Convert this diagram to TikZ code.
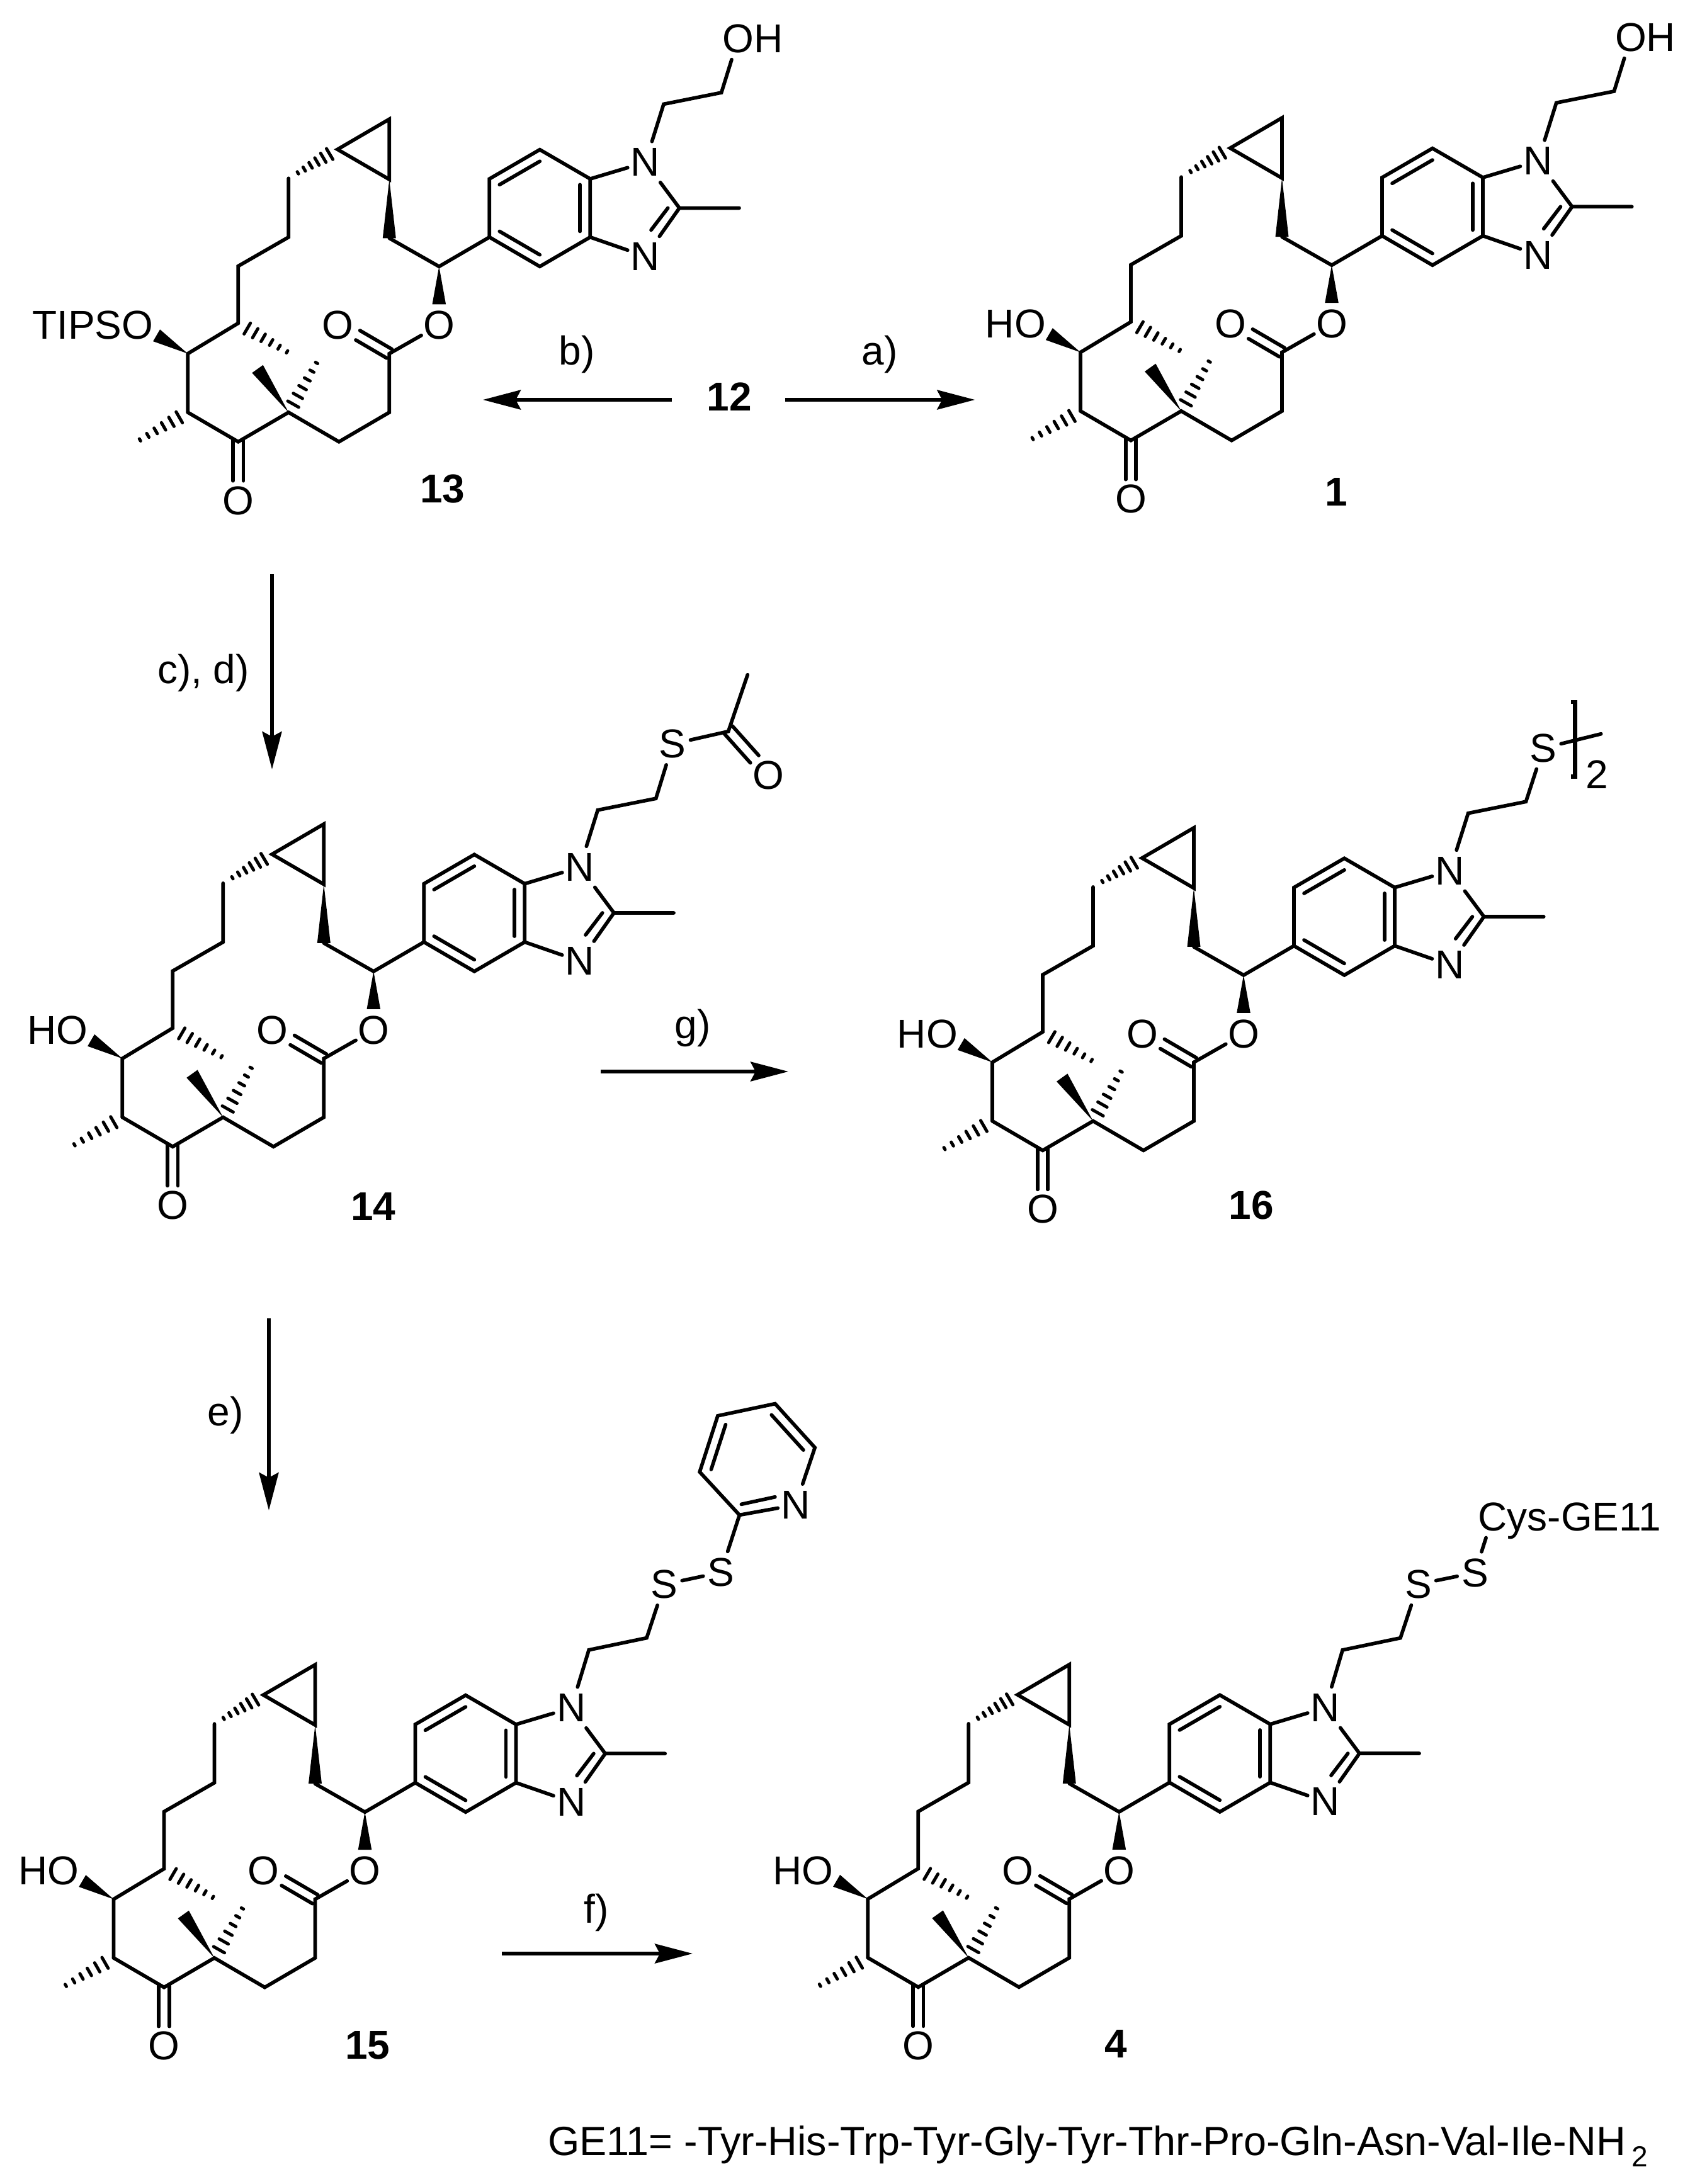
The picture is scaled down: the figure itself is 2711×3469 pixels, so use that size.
\documentclass[tikz,border=0pt]{standalone}
\usepackage{fontspec}
\setmainfont{Liberation Sans}
\usetikzlibrary{calc,arrows.meta}
\tikzset{
  x=1pt,y=1pt,
  bond/.style={line width=5.7pt,line cap=round,line join=miter,miter limit=6},
  hashline/.style={line width=5pt,line cap=round},
  atom/.style={rectangle,inner sep=0pt,minimum width=56pt,minimum height=66pt,font=\fontsize{64}{70}\selectfont},
  lab/.style={inner sep=0pt,font=\fontsize{64}{70}\selectfont},
  foot/.style={inner sep=0pt,font=\fontsize{64.7}{70}\selectfont},
  cpd/.style={inner sep=0pt,font=\fontsize{64}{70}\selectfont\bfseries},
  rxn/.style={line width=5.3pt,-{Stealth[length=60pt,width=31pt,inset=8pt]}},
  bracket/.style={line width=6.5pt,line join=miter}
}
\newcommand\wedgeb[3]{\fill ($(#2)!#3pt!90:(#1)$) -- ($(#2)!#3pt!-90:(#1)$) -- (#1) -- cycle;}
\newcommand\hashb[4]{\foreach \hI in {0,...,5}{%
  \pgfmathsetmacro\hT{#3+#4*\hI}\pgfmathsetmacro\hW{10-1.6*\hI}%
  \draw[hashline] ($(#1)!\hT!(#2)!\hW pt!90:(#2)$) -- ($(#1)!\hT!(#2)!\hW pt!-90:(#2)$);}}
\newcommand\inner[3]{\draw[bond] ($(#1)!0.8!(#2)$) -- ($(#1)!0.8!(#3)$);}
\newcommand\molcore[5]{%
\begin{scope}[shift={(#2,-#3)},name prefix=#1-]
  \coordinate (K) at (0,0);
  \coordinate (Q) at (80,46.7);
  \coordinate (A) at (160,0);
  \coordinate (B) at (240,46.7);
  \coordinate (CO) at (240,140);
  \coordinate (Me) at (-80,46.7);
  \coordinate (OR) at (-80,140);
  \coordinate (Ch) at (0,188.3);
  \coordinate (D) at (0,279);
  \coordinate (E) at (80,325);
  \coordinate (F) at (80,418.4);
  \coordinate (Cl) at (157.7,464.4);
  \coordinate (Ct) at (240,512.4);
  \coordinate (Cb) at (240,416.7);
  \coordinate (G) at (240,323.4);
  \coordinate (H) at (319,278.4);
  \coordinate (R1) at (399,325);
  \coordinate (R2) at (399,417.6);
  \coordinate (R3) at (479,464);
  \coordinate (R4) at (559,417.6);
  \coordinate (R5) at (559,325);
  \coordinate (R6) at (479,278.4);
  \coordinate (Rc) at (479,371.3);
  \coordinate (C2) at (700.7,371.3);
  \coordinate (MeC) at (795.7,371.3);
  \coordinate (hMe1) at (-160,0.7);
  \coordinate (hMe2) at (80,141.5);
  \coordinate (hMe3) at (125.5,127);
  \coordinate (wMe3) at (30.7,115.7);
  \coordinate (wOR) at (-129.7,169);
  \coordinate (wOE) at (319,218.4);
  \coordinate (k1a) at (-8.3,4.8);
  \coordinate (k1b) at (-8.3,-62);
  \coordinate (k2a) at (8.3,4.8);
  \coordinate (k2b) at (8.3,-62);
  \coordinate (e1a) at (244.1,147.1);
  \coordinate (e1b) at (193.4,176.7);
  \coordinate (e2a) at (235.9,132.9);
  \coordinate (e2b) at (186.7,161.7);
  \coordinate (d1) at (669,326.3);
  \coordinate (d2a) at (682.4,371.3);
  \coordinate (d2b) at (655.7,336.3);
  \node[atom] (Ok) at (0,-93.3) {O};
  \node[atom] (Oe) at (319,185) {O};
  \node[atom] (Oc) at (158.3,185) {O};
  \node[atom] (Ox) at (-160,185) {#4};
  \node[atom] (N1) at (646.7,443.8) {N};
  \node[atom] (N3) at (646.7,294.6) {N};
  \draw[bond] (Me) -- (K) -- (Q) -- (A) -- (B) -- (CO) -- (Oe);
  \draw[bond] (Me) -- (OR) -- (Ch) -- (D) -- (E) -- (F);
  \draw[bond] (k1a) -- (k1b);
  \draw[bond] (k2a) -- (k2b);
  \draw[bond] (e1a) -- (e1b);
  \draw[bond] (e2a) -- (e2b);
  \draw[bond] (Cl) -- (Ct) -- (Cb) -- cycle;
  \draw[bond] (G) -- (H) -- (R1);
  \draw[bond] (R1) -- (R2) -- (R3) -- (R4) -- (R5) -- (R6) -- cycle;
  \inner{Rc}{R1}{R6}
  \inner{Rc}{R2}{R3}
  \inner{Rc}{R4}{R5}
  \draw[bond] (R4) -- (N1);
  \draw[bond] (R5) -- (N3);
  \draw[bond] ($(C2)!0.56!(N1)$) -- (C2) -- (MeC);
  \draw[bond] (C2) -- (d1);
  \draw[bond] (d2a) -- (d2b);
  \wedgeb{Cb}{G}{10.5}
  \wedgeb{H}{wOE}{10.8}
  \wedgeb{OR}{wOR}{10.9}
  \wedgeb{Q}{wMe3}{10.7}
  \hashb{Cl}{F}{0.16}{0.13}
  \hashb{Ch}{hMe2}{0.18}{0.158}
  \hashb{Q}{hMe3}{0.163}{0.163}
  \hashb{Me}{hMe1}{0.17}{0.156}
  \begin{scope}[shift={(700.7,371.3)}]
  #5
  \end{scope}
\end{scope}}
\begin{document}
\begin{tikzpicture}
\useasboundingbox (0,-3469) rectangle (2711,0);
% 13
\molcore{m13}{378.3}{701.7}{\llap{TIPS}O}{
  \coordinate (Na) at (-25,165);
  \coordinate (Nb) at (66.7,183.3);
  \node[atom] (Oh) at (93.3,269) {O\rlap{H}};
  \draw[bond] (N1) -- (Na) -- (Nb) -- (Oh);
}
% 1
\molcore{m1}{1796}{699.6}{\llap{H}O}{
  \coordinate (Na) at (-25,165);
  \coordinate (Nb) at (66.7,183.3);
  \node[atom] (Oh) at (93.3,269) {O\rlap{H}};
  \draw[bond] (N1) -- (Na) -- (Nb) -- (Oh);
}
% 14
\molcore{m14}{274.3}{1821.3}{\llap{H}O}{
  \coordinate (Na) at (-25.7,163.3);
  \coordinate (Nb) at (66.7,181.7);
  \coordinate (Cs) at (181.7,288.3);
  \coordinate (Mm) at (212.3,378.3);
  \coordinate (q1a) at (188.3,296.7);
  \coordinate (q1b) at (230,250);
  \coordinate (q2a) at (175,285);
  \coordinate (q2b) at (216.7,238.3);
  \node[atom] (S) at (93.3,268.3) {S};
  \node[atom] (Oa) at (245,218.3) {O};
  \draw[bond] (N1) -- (Na) -- (Nb) -- (S);
  \draw[bond] (S) -- (Cs) -- (Mm);
  \draw[bond] (q1a) -- (q1b);
  \draw[bond] (q2a) -- (q2b);
}
% 16
\molcore{m16}{1656}{1827.3}{\llap{H}O}{
  \coordinate (Na) at (-25,164.3);
  \coordinate (Nb) at (66.7,182.7);
  \coordinate (Mm) at (186,290.3);
  \coordinate (b1) at (138.3,341);
  \coordinate (b2) at (145,341);
  \coordinate (b3) at (145,222.7);
  \coordinate (b4) at (138.3,222.7);
  \node[atom] (S) at (94.3,267.7) {S};
  \node[lab] (two) at (180,226) {2};
  \draw[bond] (N1) -- (Na) -- (Nb) -- (S);
  \draw[bond] (S) -- (Mm);
  \draw[bracket] (b1) -- (b2) -- (b3) -- (b4);
}
% 15
\molcore{m15}{260.5}{3156.6}{\llap{H}O}{
  \coordinate (Na) at (-26,164.6);
  \coordinate (Nb) at (65.8,183.7);
  \coordinate (P2) at (213.2,378.9);
  \coordinate (P6) at (333,486);
  \coordinate (P5) at (269.8,555.7);
  \coordinate (P4) at (178.7,536.5);
  \coordinate (P3) at (150,447.4);
  \coordinate (Pc) at (241.3,466.8);
  \coordinate (Pa) at (216.2,396);
  \coordinate (Pb) at (269.7,407.6);
  \node[atom] (Sa) at (93.8,268.7) {S};
  \node[atom] (Sb) at (183.7,287.8) {S};
  \node[atom] (Np) at (302.3,395) {N};
  \draw[bond] (N1) -- (Na) -- (Nb) -- (Sa);
  \draw[bond] (Sa) -- (Sb);
  \draw[bond] (Sb) -- (P2);
  \draw[bond] (Np) -- (P6) -- (P5) -- (P4) -- (P3) -- (P2) -- (Np);
  \draw[bond] (Pa) -- (Pb);
  \inner{Pc}{P3}{P4}
  \inner{Pc}{P5}{P6}
}
% 4
\molcore{m4}{1458.3}{3156.3}{\llap{H}O}{
  \coordinate (Na) at (-26.8,164.2);
  \coordinate (Nb) at (65,183.3);
  \node[atom] (Sa) at (93.4,268.7) {S};
  \node[atom] (Sb) at (183.4,287) {S};
  \node[atom] (Cy) at (211.6,375.8) {C\rlap{\smash{ys-GE11}}};
  \draw[bond] (N1) -- (Na) -- (Nb) -- (Sa);
  \draw[bond] (Sa) -- (Sb);
  \draw[bond] (Sb) -- (Cy);
}
% compound numbers
\node[cpd] (n12) at (1158,-630) {12};
\node[cpd] (n13) at (703,-777) {13};
\node[cpd] (n1) at (2122,-781) {1};
\node[cpd] (n14) at (593,-1916) {14};
\node[cpd] (n16) at (1987,-1914) {16};
\node[cpd] (n15) at (584,-3249) {15};
\node[cpd] (n4) at (1772,-3246) {4};
% reaction arrows
\coordinate (aS) at (1246.7,-635);
\coordinate (aE) at (1548.3,-635);
\coordinate (bS) at (1067,-635);
\coordinate (bE) at (767,-635);
\coordinate (cS) at (432,-912);
\coordinate (cE) at (432,-1222);
\coordinate (gS) at (954,-1702);
\coordinate (gE) at (1252,-1702);
\coordinate (eS) at (427,-2094);
\coordinate (eE) at (427,-2399);
\coordinate (fS) at (797,-3103);
\coordinate (fE) at (1100,-3103);
\draw[rxn] (aS) -- (aE);
\draw[rxn] (bS) -- (bE);
\draw[rxn] (cS) -- (cE);
\draw[rxn] (gS) -- (gE);
\draw[rxn] (eS) -- (eE);
\draw[rxn] (fS) -- (fE);
\node[lab] (la) at (1397,-563) {a)};
\node[lab] (lb) at (916,-563) {b)};
\node[lab] (lc) at (323,-1069) {c), d)};
\node[lab] (lg) at (1100,-1633) {g)};
\node[lab] (le) at (358,-2248) {e)};
\node[lab] (lf) at (947,-3038) {f)};
\node[foot,anchor=base west] (ge) at (870,-3423.5) {GE11= -Tyr-His-Trp-Tyr-Gly-Tyr-Thr-Pro-Gln-Asn-Val-Ile-NH\hspace{10pt}\raisebox{-18pt}{\fontsize{46}{50}\selectfont 2}};
\end{tikzpicture}
\end{document}
